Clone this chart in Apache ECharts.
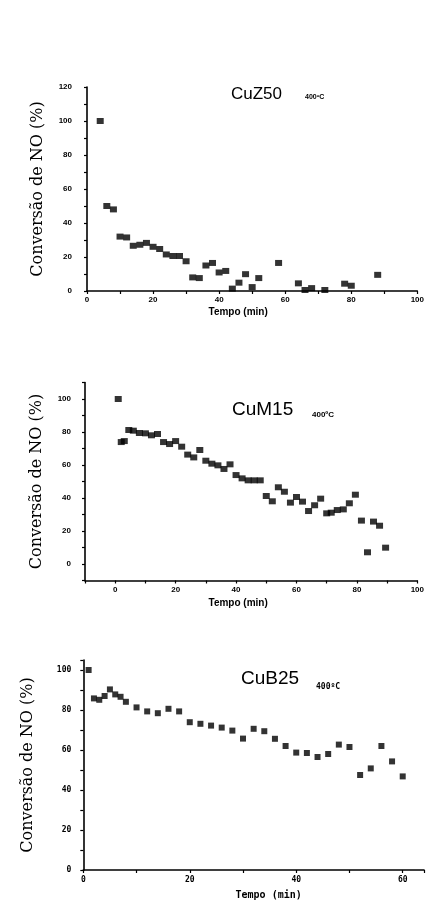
<!DOCTYPE html>
<html>
<head>
<meta charset="utf-8">
<script src="https://cdn.jsdelivr.net/npm/echarts@6/dist/echarts.min.js"></script>
<style>
html,body{margin:0;padding:0;background:#fff;}
#chart{width:427px;height:908px;}
</style>
</head>
<body>
<div id="chart"></div>
<script>
// ---- data ----
const cuz50Time = [4,6,8,10,12,14,16,18,20,22,24,26,28,30,32,34,36,38,40,42,44,46,48,50,52,58,64,66,68,72,78,80,88];
const cuz50Conv = [100,50,48,32,31.5,26.6,27.2,28.3,26,24.7,21.5,20.6,20.6,17.5,8,7.6,15,16.5,10.9,11.8,1.4,4.9,9.9,2.3,7.6,16.5,4.5,0.6,1.7,0.6,4.3,3.1,9.5];

const cum15Time = [1,2,3,4.5,6,8,10,12,14,16,18,20,22,24,26,28,30,32,34,36,38,40,42,44,46,48,50,52,54,56,58,60,62,64,66,68,70,71.5,73.5,75.5,77.5,79.5,81.5,83.5,85.5,87.5,89.5];
const cum15Conv = [100,73.9,74.5,81.2,80.8,79.4,79.2,78,78.8,73.9,72.7,74.5,71.1,66.3,64.6,69.1,62.6,60.8,59.8,57.6,60.4,53.9,51.9,50.7,50.7,50.7,41.2,38,46.5,43.8,37.2,40.6,37.8,32.1,35.6,39.6,30.7,31.1,32.7,33.1,36.8,42,26.3,7.1,25.7,23.2,9.9];

const cub25Time = [1,2,3,4,5,6,7,8,10,12,14,16,18,20,22,24,26,28,30,32,34,36,38,40,42,44,46,48,50,52,54,56,58,60];
const cub25Conv = [100,85.8,85.1,87,90.3,87.8,86.6,84.1,81.3,79.3,78.4,80.6,79.3,73.9,73.1,72.2,71.2,69.7,65.7,70.6,69.4,65.6,62,58.7,58.5,56.5,58,62.7,61.5,47.5,50.8,62,54.3,46.8];

const panelTitles = ['CuZ50','CuM15','CuB25'];
const tempLabel = '400ºC';
const xName = 'Tempo (min)';
const yName = 'Conversão de NO (%)';

function pairs(xs, ys){ return xs.map((x,i)=>[x, ys[i]]); }
const every20 = v => (v % 20 === 0 && v >= 0 && v <= 100) ? String(v) : '';

const chart = echarts.init(document.getElementById('chart'), null, {renderer:'canvas'});

const axisLine = {show:true, onZero:false, lineStyle:{color:'#000', width:1.6}};
const tickStyle = {show:true, inside:false, length:3, lineStyle:{color:'#000', width:1.2}};
const labStyle = (m, fam) => ({show:true, color:'#000', fontSize:8, fontWeight:'bold', fontFamily:fam||'Liberation Sans', margin:m, formatter:every20, showMaxLabel:true, showMinLabel:true});

const option = {
  backgroundColor:'#fff',
  animation:false,
  title:[
    {text:panelTitles[0], left:226, top:81, textStyle:{fontFamily:'Liberation Sans', fontSize:17, fontWeight:'normal', color:'#000'}},
    {text:tempLabel, left:300, top:89, textStyle:{fontFamily:'Liberation Sans', fontSize:7, fontWeight:'bold', color:'#000'}},
    {text:panelTitles[1], left:227, top:395, textStyle:{fontFamily:'Liberation Sans', fontSize:19, fontWeight:'normal', color:'#000'}},
    {text:tempLabel, left:307, top:406, textStyle:{fontFamily:'Liberation Sans', fontSize:8, fontWeight:'bold', color:'#000'}},
    {text:panelTitles[2], left:236, top:664, textStyle:{fontFamily:'Liberation Sans', fontSize:19, fontWeight:'normal', color:'#000'}},
    {text:tempLabel, left:311, top:678, textStyle:{fontFamily:'DejaVu Sans Mono', fontSize:8, fontWeight:'bold', color:'#000'}}
  ],
  grid:[
    {left:87, right:2.5, top:87, height:204, containLabel:false},
    {left:85, right:2.5, top:382.5, height:198, containLabel:false},
    {left:83.3, right:1.3, top:660, height:210, containLabel:false}
  ],
  xAxis:[
    {gridIndex:0, type:'value', min:0, max:100, interval:10, axisLine:axisLine, axisTick:tickStyle,
     axisLabel:labStyle(5), splitLine:{show:false},
     name:xName, nameLocation:'middle', nameGap:16,
     nameTextStyle:{fontFamily:'Liberation Sans', fontSize:10, fontWeight:'bold', color:'#000', padding:[0,28,0,0]}},
    {gridIndex:1, type:'value', min:-10, max:100, interval:10, axisLine:axisLine, axisTick:tickStyle,
     axisLabel:labStyle(5), splitLine:{show:false},
     name:xName, nameLocation:'middle', nameGap:18,
     nameTextStyle:{fontFamily:'Liberation Sans', fontSize:10, fontWeight:'bold', color:'#000', padding:[0,26,0,0]}},
    {gridIndex:2, type:'value', min:0, max:64, interval:10, axisLine:axisLine, axisTick:tickStyle,
     axisLabel:labStyle(6,'DejaVu Sans Mono'), splitLine:{show:false},
     name:xName, nameLocation:'middle', nameGap:20,
     nameTextStyle:{fontFamily:'DejaVu Sans Mono', fontSize:10, fontWeight:'bold', color:'#000', padding:[0,0,0,30]}}
  ],
  yAxis:[
    {gridIndex:0, type:'value', min:0, max:120, interval:10, axisLine:axisLine, axisTick:tickStyle,
     axisLabel:Object.assign(labStyle(15), {formatter:v => (v % 20 === 0) ? String(v) : ''}), splitLine:{show:false},
     name:yName, nameLocation:'middle', nameGap:41,
     nameTextStyle:{fontFamily:'DejaVu Serif', fontSize:16, color:'#000'}},
    {gridIndex:1, type:'value', min:-10, max:110, interval:10, axisLine:axisLine, axisTick:tickStyle,
     axisLabel:labStyle(14), splitLine:{show:false},
     name:yName, nameLocation:'middle', nameGap:40,
     nameTextStyle:{fontFamily:'DejaVu Serif', fontSize:16, color:'#000'}},
    {gridIndex:2, type:'value', min:0, max:105, interval:10, axisLine:axisLine, axisTick:tickStyle,
     axisLabel:labStyle(12,'DejaVu Sans Mono'), splitLine:{show:false},
     name:yName, nameLocation:'middle', nameGap:47,
     nameTextStyle:{fontFamily:'DejaVu Serif', fontSize:16, color:'#000'}}
  ],
  series:[
    {type:'scatter', xAxisIndex:0, yAxisIndex:0, data:pairs(cuz50Time, cuz50Conv), symbol:'rect', symbolSize:[7,6], itemStyle:{color:'#000'}},
    {type:'scatter', xAxisIndex:1, yAxisIndex:1, data:pairs(cum15Time, cum15Conv), symbol:'rect', symbolSize:[7,6], itemStyle:{color:'#000'}},
    {type:'scatter', xAxisIndex:2, yAxisIndex:2, data:pairs(cub25Time, cub25Conv), symbol:'rect', symbolSize:[6,6], itemStyle:{color:'#000'}}
  ]
};
chart.setOption(option);
</script>
</body>
</html>
